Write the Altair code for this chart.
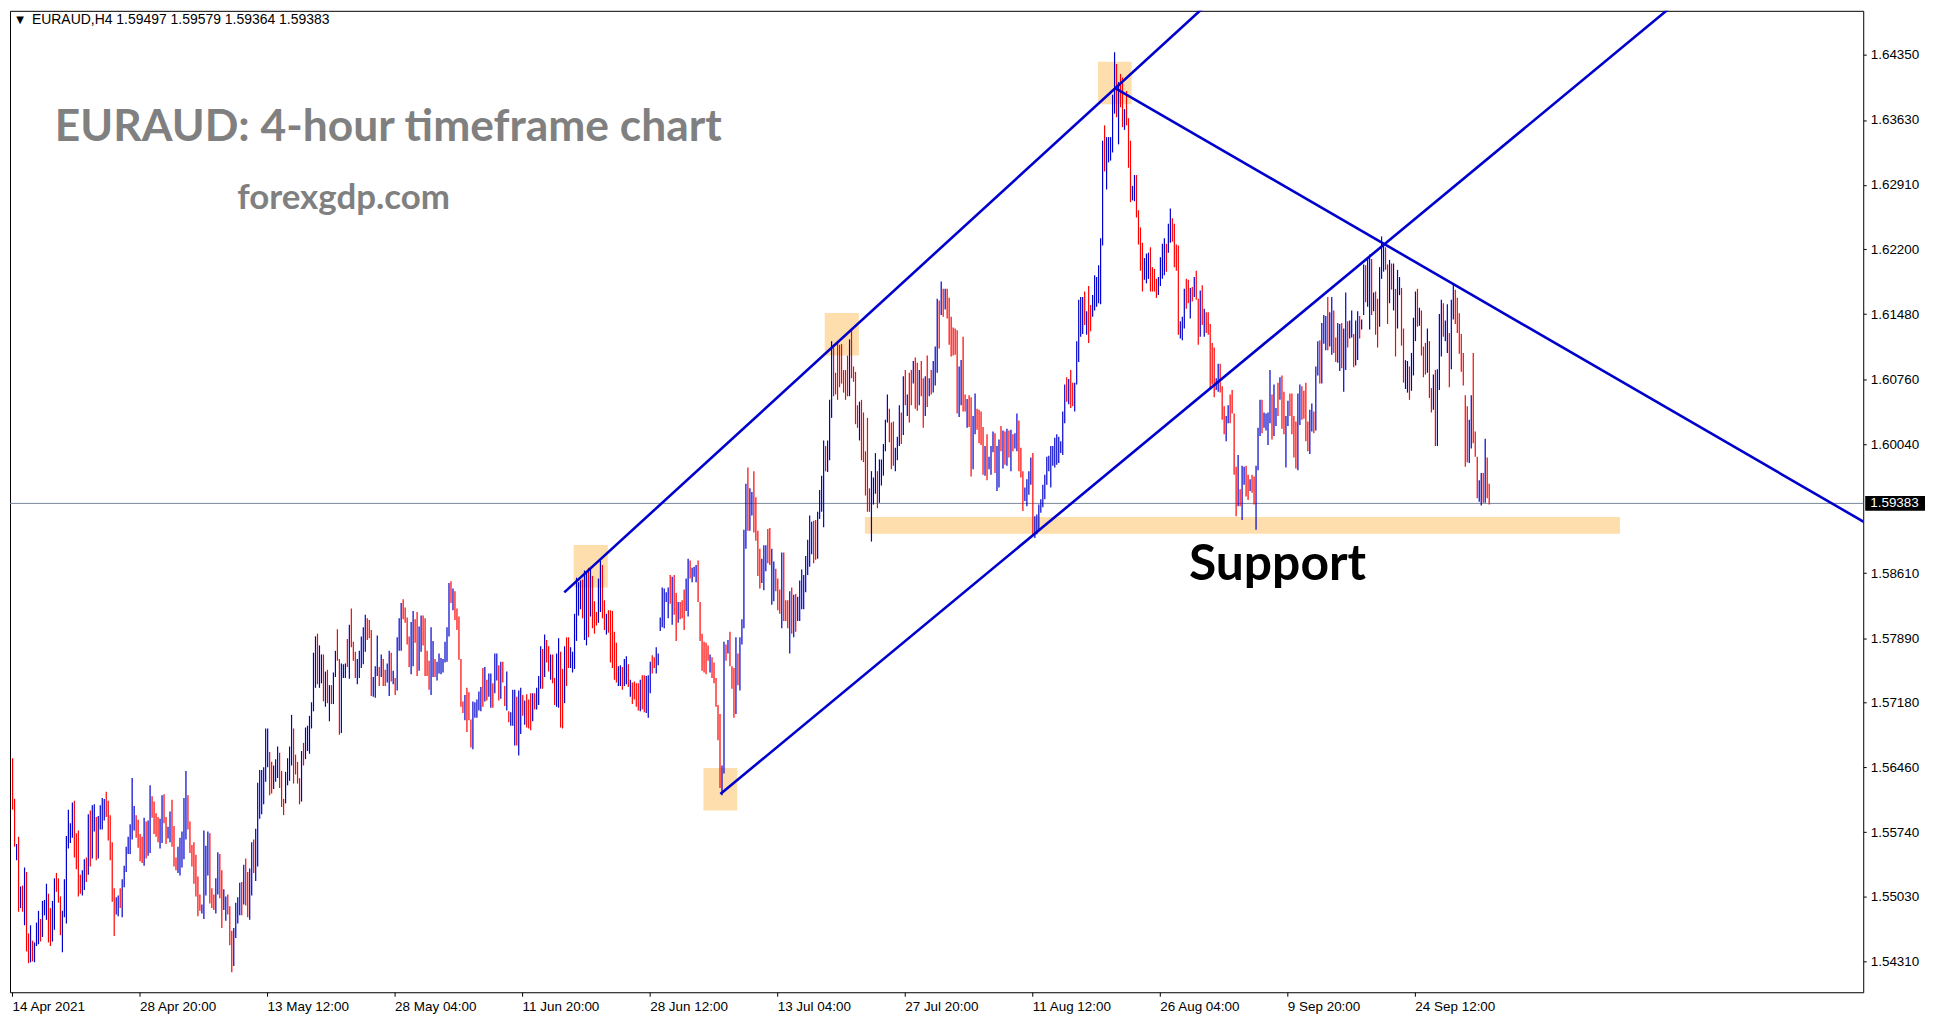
import altair as alt
import pandas as pd

# ---------------- data ----------------
highs = [
1.5656,1.5611,1.5561,1.5569,1.5514,1.5515,1.5535,1.5530,1.5462,1.5471,
1.5454,1.5452,1.5474,1.5487,1.5478,1.5498,1.5499,1.5517,1.5506,1.5490,
1.5498,1.5523,1.5529,1.5523,1.5503,1.5487,1.5522,1.5570,1.5599,1.5584,
1.5607,1.5609,1.5573,1.5576,1.5527,1.5532,1.5544,1.5546,1.5594,1.5598,
1.5604,1.5605,1.5591,1.5592,1.5604,1.5612,1.5611,1.5619,1.5609,1.5593,
1.5563,1.5512,1.5502,1.5504,1.5512,1.5522,1.5537,1.5558,1.5569,1.5583,
1.5634,1.5603,1.5593,1.5588,1.5572,1.5569,1.5590,1.5586,1.5587,1.5626,
1.5614,1.5608,1.5595,1.5591,1.5589,1.5615,1.5616,1.5591,1.5580,1.5597,
1.5610,1.5581,1.5546,1.5558,1.5568,1.5575,1.5612,1.5642,1.5615,1.5586,
1.5560,1.5563,1.5549,1.5525,1.5505,1.5494,1.5576,1.5559,1.5575,1.5573,
1.5512,1.5505,1.5523,1.5552,1.5550,1.5532,1.5511,1.5503,1.5505,1.5492,
1.5465,1.5468,1.5496,1.5502,1.5518,1.5519,1.5538,1.5545,1.5530,1.5534,
1.5563,1.5566,1.5578,1.5629,1.5643,1.5643,1.5646,1.5689,1.5689,1.5663,
1.5652,1.5648,1.5655,1.5669,1.5662,1.5642,1.5611,1.5641,1.5656,1.5669,
1.5704,1.5689,1.5660,1.5652,1.5634,1.5664,1.5673,1.5690,1.5692,1.5703,
1.5718,1.5773,1.5791,1.5794,1.5781,1.5771,1.5771,1.5752,1.5754,1.5737,
1.5737,1.5751,1.5775,1.5799,
1.5766,1.5761,1.5760,1.5761,1.5788,1.5804,1.5822,1.5785,1.5774,1.5766,
1.5775,1.5791,1.5801,1.5815,1.5811,1.5809,1.5798,1.5746,1.5758,1.5792,
1.5757,1.5771,1.5766,1.5754,1.5761,1.5775,1.5773,1.5753,1.5745,1.5790,
1.5811,1.5828,1.5832,1.5823,1.5812,1.5791,1.5807,1.5819,1.5810,1.5818,
1.5802,1.5814,1.5814,1.5811,1.5775,1.5764,1.5801,1.5786,1.5766,1.5763,
1.5772,1.5767,1.5766,1.5785,1.5801,1.5850,1.5852,1.5844,1.5841,1.5822,
1.5813,1.5766,1.5719,1.5726,1.5734,1.5729,1.5699,1.5719,1.5718,1.5721,
1.5730,1.5735,1.5756,1.5757,1.5743,1.5750,1.5750,1.5739,1.5772,1.5772,
1.5759,1.5763,1.5763,1.5736,1.5752,1.5708,1.5707,1.5732,1.5732,1.5724,
1.5731,1.5734,1.5726,1.5720,1.5727,1.5721,1.5728,1.5728,1.5728,1.5734,
1.5747,1.5780,1.5777,1.5793,1.5787,1.5780,1.5771,1.5771,1.5745,1.5772,
1.5789,1.5774,1.5755,1.5780,1.5790,1.5790,1.5779,1.5774,1.5816,1.5856,
1.5851,1.5853,1.5854,1.5864,1.5863,1.5867,1.5868,1.5858,1.5830,1.5818,
1.5855,1.5875,1.5870,1.5831,1.5816,1.5820,1.5820,1.5819,1.5796,1.5784,
1.5758,1.5759,1.5757,1.5766,1.5769,1.5760,1.5743,1.5740,1.5741,1.5739,
1.5739,1.5743,1.5748,1.5748,1.5747,1.5748,1.5763,1.5770,1.5768,1.5779,
1.5772,1.5812,1.5845,1.5844,1.5840,
1.5845,1.5859,1.5857,1.5859,1.5839,1.5829,1.5829,1.5831,1.5843,1.5855,
1.5877,1.5875,1.5867,1.5868,1.5870,1.5875,1.5829,1.5794,1.5785,1.5784,
1.5781,1.5771,1.5768,1.5762,1.5745,1.5715,1.5705,1.5648,1.5785,1.5782,
1.5787,1.5796,1.5758,1.5756,1.5790,1.5772,1.5790,1.5810,1.5909,1.5960,
1.5978,1.5955,1.5951,1.5974,1.5945,1.5908,1.5888,1.5877,1.5892,1.5892,
1.5910,1.5911,1.5888,1.5874,1.5866,1.5855,1.5843,1.5884,1.5884,1.5831,
1.5831,1.5841,1.5845,1.5837,1.5838,1.5835,1.5853,1.5865,1.5859,1.5880,
1.5898,1.5925,1.5918,1.5919,1.5920,1.5929,1.5953,1.5969,1.6008,1.6002,
1.6008,1.6053,1.6118,1.6111,1.6083,1.6116,1.6114,1.6115,1.6086,1.6086,
1.6102,1.6120,1.6130,1.6090,1.6084,1.6047,1.6051,1.6053,1.6039,1.5996,
1.6033,1.5955,1.5974,1.5967,1.5994,1.5974,1.5987,1.5987,1.6004,1.6031,
1.6059,1.6043,1.6028,1.6029,1.6000,1.6012,1.6047,1.6039,1.6079,1.6086,
1.6059,1.6083,1.6086,1.6096,1.6100,1.6094,1.6086,1.6096,1.6077,1.6079,
1.6102,1.6077,1.6086,1.6096,1.6112,1.6165,1.6163,1.6184,1.6176,1.6176,
1.6176,1.6166,
1.6145,1.6133,1.6132,1.6130,1.6090,1.6097,1.6123,1.6059,1.6054,1.6058,
1.6056,1.6035,1.6060,1.6043,1.6042,1.6040,1.6023,1.6002,1.6015,1.5990,
1.6002,1.6018,1.6016,1.6002,1.6009,1.6024,1.6019,1.6018,1.6021,1.6019,
1.6020,1.6015,1.6016,1.6038,1.6030,1.6000,1.5974,1.5956,1.5965,1.5974,
1.5989,1.5994,1.5924,1.5926,1.5937,1.5943,1.5959,1.5970,1.5990,1.5991,
1.6002,1.6002,1.6011,1.6015,1.6012,1.6007,1.6040,1.6070,1.6078,1.6076,
1.6086,1.6072,1.6072,1.6118,1.6164,1.6167,1.6167,1.6173,1.6151,1.6179,
1.6158,1.6169,1.6191,1.6189,1.6202,1.6232,1.6340,1.6357,1.6344,1.6344,
1.6344,1.6391,1.6438,1.6425,1.6405,1.6414,1.6410,1.6375,1.6395,1.6365,
1.6340,1.6290,1.6302,1.6302,1.6263,1.6244,1.6227,1.6210,1.6215,1.6216,
1.6222,1.6200,1.6198,1.6187,1.6189,1.6211,1.6226,1.6232,1.6226,1.6248,
1.6265,1.6254,1.6248,1.6225,1.6224,1.6140,1.6145,1.6176,1.6187,1.6186,
1.6177,1.6178,1.6189,1.6196,1.6165,1.6174,1.6180,1.6154,1.6150,1.6150,
1.6137,1.6116,1.6111,1.6077,1.6093,1.6093,1.6068,1.6046,1.6035,1.6047,
1.6059,1.6064,1.6038,1.5979,1.5992,1.5954,1.5980,1.5979,1.5980,1.5970,
1.5965,1.5970,1.5968,1.5980,1.6022,1.6053,1.6053,1.6039,1.6038,1.6039,
1.6086,1.6059,1.6070,1.6044,1.6072,1.6078,1.6080,1.6062,1.6035,1.6052,
1.6060,1.6060,1.6035,1.6029,1.6060,1.6070,1.6068,1.6063,1.6072,1.6029,
1.6042,1.6049,1.6040,1.6090,1.6118,1.6119,1.6138,1.6147,1.6146,1.6167,
1.6150,1.6167,1.6152,1.6122,1.6138,1.6137,1.6138,1.6132,1.6172,1.6140,
1.6141,1.6152,1.6126,1.6141,1.6151,1.6146,1.6142,1.6203,1.6202,1.6211,
1.6214,1.6209,1.6172,1.6173,1.6165,1.6200,1.6234,1.6227,1.6222,1.6203,
1.6208,1.6204,1.6204,1.6176,1.6197,1.6189,1.6177,1.6132,1.6097,1.6096,
1.6090,1.6105,1.6144,1.6173,1.6176,1.6155,1.6152,1.6112,1.6116,1.6132,
1.6118,1.6066,1.6081,1.6086,1.6087,1.6148,1.6164,1.6160,1.6141,1.6159,
1.6127,1.6164,1.6182,1.6175,1.6166,1.6149,1.6126,1.6105,1.6058,1.6046,
1.6031,1.6058,1.6105,1.6018,1.5990,1.5964,1.5972,1.5972,1.6010,1.5989,
1.5960,
]

lows = [
1.5599,1.5558,1.5543,1.5486,1.5490,1.5486,1.5471,1.5442,1.5429,1.5430,
1.5431,1.5430,1.5448,1.5450,1.5453,1.5458,1.5482,1.5477,1.5452,1.5448,
1.5453,1.5466,1.5508,1.5496,1.5460,1.5441,1.5480,1.5473,1.5556,1.5562,
1.5568,1.5546,1.5533,1.5503,1.5506,1.5504,1.5510,1.5519,1.5527,1.5536,
1.5545,1.5575,1.5543,1.5545,1.5577,1.5577,1.5587,1.5591,1.5565,1.5543,
1.5497,1.5459,1.5483,1.5481,1.5490,1.5480,1.5513,1.5530,1.5550,1.5550,
1.5566,1.5576,1.5568,1.5557,1.5542,1.5540,1.5537,1.5545,1.5548,1.5551,
1.5590,1.5572,1.5569,1.5563,1.5556,1.5562,1.5584,1.5561,1.5567,1.5563,
1.5558,1.5536,1.5532,1.5529,1.5526,1.5535,1.5544,1.5566,1.5577,1.5551,
1.5536,1.5517,1.5503,1.5481,1.5487,1.5484,1.5478,1.5504,1.5526,1.5495,
1.5490,1.5488,1.5484,1.5505,1.5501,1.5468,1.5488,1.5476,1.5483,1.5449,
1.5419,1.5426,1.5457,1.5473,1.5482,1.5482,1.5494,1.5493,1.5480,1.5477,
1.5504,1.5529,1.5520,1.5536,1.5589,1.5594,1.5605,1.5630,1.5646,1.5615,
1.5617,1.5622,1.5630,1.5634,1.5623,1.5602,1.5593,1.5606,1.5626,1.5631,
1.5648,1.5628,1.5638,1.5628,1.5605,1.5608,1.5648,1.5655,1.5664,1.5661,
1.5689,1.5708,1.5734,1.5738,1.5734,1.5739,1.5719,1.5713,1.5717,1.5697,
1.5716,1.5716,1.5746,1.5764,
1.5682,1.5684,1.5745,1.5745,1.5757,1.5744,1.5779,1.5764,1.5745,1.5738,
1.5745,1.5756,1.5760,1.5774,1.5787,1.5789,1.5725,1.5724,1.5723,1.5747,
1.5736,1.5746,1.5736,1.5736,1.5740,1.5725,1.5741,1.5738,1.5726,1.5731,
1.5775,1.5775,1.5810,1.5806,1.5782,1.5757,1.5749,1.5758,1.5784,1.5747,
1.5753,1.5774,1.5781,1.5747,1.5747,1.5732,1.5726,1.5746,1.5746,1.5742,
1.5750,1.5749,1.5751,1.5762,1.5763,1.5791,1.5828,1.5820,1.5809,1.5798,
1.5765,1.5713,1.5706,1.5698,1.5685,1.5698,1.5668,1.5666,1.5701,1.5701,
1.5709,1.5708,1.5713,1.5719,1.5720,1.5724,1.5712,1.5712,1.5728,1.5742,
1.5720,1.5722,1.5740,1.5714,1.5709,1.5696,1.5692,1.5692,1.5670,1.5670,
1.5659,1.5683,1.5703,1.5693,1.5690,1.5689,1.5687,1.5697,1.5710,1.5710,
1.5715,1.5733,1.5733,1.5746,1.5762,1.5752,1.5743,1.5739,1.5715,1.5713,
1.5712,1.5690,1.5689,1.5717,1.5736,1.5756,1.5756,1.5751,1.5755,1.5786,
1.5814,1.5821,1.5811,1.5787,1.5781,1.5790,1.5813,1.5800,1.5794,1.5803,
1.5806,1.5818,1.5811,1.5798,1.5793,1.5795,1.5762,1.5756,1.5743,1.5740,
1.5736,1.5736,1.5732,1.5736,1.5738,1.5735,1.5724,1.5716,1.5721,1.5713,
1.5709,1.5708,1.5710,1.5707,1.5706,1.5701,1.5728,1.5750,1.5756,1.5750,
1.5759,1.5797,1.5801,1.5800,1.5829,
1.5811,1.5827,1.5804,1.5815,1.5786,1.5806,1.5810,1.5811,1.5798,1.5819,
1.5813,1.5855,1.5851,1.5857,1.5851,1.5829,1.5786,1.5753,1.5751,1.5749,
1.5764,1.5751,1.5745,1.5739,1.5713,1.5676,1.5623,1.5615,1.5639,1.5764,
1.5772,1.5758,1.5733,1.5701,1.5705,1.5737,1.5731,1.5782,1.5800,1.5888,
1.5908,1.5908,1.5925,1.5906,1.5897,1.5858,1.5844,1.5850,1.5842,1.5863,
1.5872,1.5870,1.5826,1.5830,1.5841,1.5820,1.5816,1.5800,1.5808,1.5808,
1.5800,1.5772,1.5794,1.5790,1.5796,1.5808,1.5808,1.5821,1.5821,1.5840,
1.5859,1.5868,1.5882,1.5872,1.5876,1.5877,1.5921,1.5929,1.5912,1.5974,
1.5973,1.5986,1.6033,1.6057,1.6059,1.6053,1.6067,1.6071,1.6061,1.6053,
1.6057,1.6057,1.6077,1.6073,1.6026,1.6022,1.6008,1.5986,1.5984,1.5947,
1.5929,1.5929,1.5896,1.5937,1.5949,1.5933,1.5939,1.5958,1.5969,1.5996,
1.6028,1.6006,1.5976,1.5980,1.5974,1.5986,1.6002,1.6004,1.6014,1.6047,
1.6035,1.6028,1.6047,1.6071,1.6043,1.6041,1.6047,1.6057,1.6022,1.6035,
1.6045,1.6057,1.6059,1.6061,1.6069,1.6083,1.6110,1.6147,1.6145,1.6153,
1.6143,1.6114,
1.6101,1.6102,1.6103,1.6038,1.6034,1.6047,1.6040,1.6040,1.6022,1.6023,
1.5968,1.5976,1.6015,1.6020,1.6005,1.6003,1.5970,1.5969,1.5964,1.5976,
1.5970,1.5995,1.5972,1.5952,1.5956,1.5996,1.5977,1.5981,1.5980,1.5989,
1.5974,1.5996,1.5999,1.5996,1.5974,1.5967,1.5930,1.5941,1.5935,1.5948,
1.5959,1.5904,1.5900,1.5904,1.5910,1.5928,1.5934,1.5943,1.5959,1.5974,
1.5956,1.5980,1.5978,1.5981,1.5983,1.5994,1.5992,1.6027,1.6051,1.6048,
1.6044,1.6046,1.6040,1.6070,1.6095,1.6123,1.6126,1.6136,1.6125,1.6116,
1.6129,1.6145,1.6152,1.6156,1.6160,1.6159,1.6224,1.6306,1.6286,1.6316,
1.6318,1.6327,1.6370,1.6366,1.6336,1.6377,1.6355,1.6352,1.6357,1.6310,
1.6272,1.6274,1.6273,1.6255,1.6225,1.6196,1.6173,1.6186,1.6182,1.6187,
1.6173,1.6173,1.6173,1.6166,1.6169,1.6179,1.6187,1.6191,1.6195,1.6216,
1.6227,1.6228,1.6200,1.6196,1.6125,1.6121,1.6119,1.6132,1.6154,1.6160,
1.6143,1.6162,1.6167,1.6164,1.6114,1.6123,1.6136,1.6123,1.6127,1.6125,
1.6066,1.6070,1.6056,1.6064,1.6062,1.6061,1.6031,1.6015,1.6007,1.6027,
1.6027,1.6038,1.5970,1.5924,1.5935,1.5935,1.5920,1.5959,1.5946,1.5942,
1.5952,1.5950,1.5937,1.5909,1.5975,1.6013,1.6016,1.6022,1.6019,1.6003,
1.6027,1.6009,1.6013,1.6024,1.6035,1.6053,1.6021,1.6015,1.5978,1.6024,
1.6035,1.6015,1.5989,1.5977,1.5975,1.6025,1.6031,1.6032,1.6007,1.5996,
1.5993,1.6018,1.6016,1.6019,1.6080,1.6071,1.6071,1.6115,1.6108,1.6108,
1.6112,1.6103,1.6105,1.6095,1.6094,1.6085,1.6088,1.6062,1.6086,1.6111,
1.6121,1.6122,1.6089,1.6091,1.6097,1.6121,1.6131,1.6147,1.6161,1.6156,
1.6131,1.6147,1.6151,1.6125,1.6111,1.6134,1.6187,1.6195,1.6197,1.6137,
1.6160,1.6175,1.6152,1.6101,1.6132,1.6169,1.6113,1.6072,1.6065,1.6061,
1.6053,1.6063,1.6080,1.6118,1.6134,1.6135,1.6102,1.6078,1.6081,1.6083,
1.6055,1.6039,1.6042,1.6002,1.6002,1.6064,1.6101,1.6123,1.6118,1.6105,
1.6067,1.6087,1.6142,1.6137,1.6127,1.6104,1.6084,1.6069,1.5979,1.5984,
1.5983,1.5999,1.6005,1.5990,1.5944,1.5940,1.5936,1.5939,1.5939,1.5944,
1.5937,
]

# u = close above open, d = close below open
direction = (
    "ddudududdu" "duuuduuudd" "uuddduuuuu" "udddduudud" "uuduuuuddd"
    "dduuduuuuu" "uudddduduu" "dddduudduu" "ddduuuuudd" "ddddduuuud"
    "dduudduudd" "duuuududdu" "uduuuuuuud" "duuuddduuu" "udddduduuu"
    "uuuduududu" "duud"
    "duuududddu" "uuuuddduuu" "dudduududu" "uudddduudd" "uudddduudu"
    "uuuuuududd" "ddduddduuu" "uududuuduu" "dudduduuud" "uududddudu"
    "uududduddu" "uddudduuuu" "uuduududdd" "uudduddddd" "uuduududdd"
    "dudduuuddu" "uuuuu"
    "ududdudddu" "uduuuddddd" "duddddduud" "uddduduuuu" "duudddduuu"
    "dduudddudd" "dududuuuuu" "uuudduuuud" "uuuddddddd" "dudddduddd"
    "dduuuduuuu" "uddduuudud" "uddudduddu" "duduuududu" "dd"
    "dddduuddud" "duuddddudu" "uuduududud" "uduuddduuu" "uduuuuuuuu"
    "uuuuuuuudu" "dduuuuudud" "duuuuuuduu" "uuududdudd" "duudddduuu"
    "dddduuuudu" "udddduuudd" "ududdududd" "ddduuddduu"
    "dddduduudd" "udduuuduuu" "uduududduu" "dddduudddd" "uuduuduuud"
    "uudduuduud" "uuduuduudu" "ududduuudd" "ududuudduu" "duuududddu"
    "dduduuuduu" "duuddddddd" "uuddduudud" "d"
)

time_labels = ["14 Apr 2021", "28 Apr 20:00", "13 May 12:00", "28 May 04:00",
               "11 Jun 20:00", "28 Jun 12:00", "13 Jul 04:00", "27 Jul 20:00",
               "11 Aug 12:00", "26 Aug 04:00", "9 Sep 20:00", "24 Sep 12:00"]
bars_per_label = 64
price_ticks = [1.64350, 1.63630, 1.62910, 1.62200, 1.61480, 1.60760, 1.60040,
               1.58610, 1.57890, 1.57180, 1.56460, 1.55740, 1.55030, 1.54310]
last_price = 1.59383
header = "EURAUD,H4  1.59497 1.59579 1.59364 1.59383"

# annotation objects (bar index / price)
trend_lines = pd.DataFrame({
    "x": [277.15, 355.5, 553.15],
    "y": [1.58397, 1.56164, 1.63989],
    "x2": [627.8, 865.2, 935.0],
    "y2": [1.65479, 1.65479, 1.59105],
})
zones = pd.DataFrame({
    "x": [347.0, 281.85, 407.85, 545.0, 428.0],
    "x2": [364.0, 299.0, 425.0, 561.85, 806.9],
    "y": [1.55981, 1.58452, 1.61020, 1.63805, 1.59048],
    "y2": [1.56451, 1.58923, 1.61492, 1.64276, 1.59232],
})

# ---------------- chart ----------------
n = min(len(highs), len(lows), len(direction))
bars = pd.DataFrame({
    "idx": list(range(n)),
    "high": highs[:n],
    "low": lows[:n],
    "dir": list(direction[:n]),
})

W, H = 1860, 985
xs = alt.Scale(domain=[-1, 929], nice=False, zero=False)
ys = alt.Scale(domain=[1.539682, 1.648389], nice=False, zero=False)
AXFONT = "Liberation Sans"

label_js = "[" + ",".join("'" + s + "'" for s in time_labels) + "]"
x_axis = alt.Axis(values=[i * bars_per_label for i in range(len(time_labels))],
                  labelExpr=label_js + "[round(datum.value / %d)]" % bars_per_label,
                  labelAlign="left", labelFont=AXFONT, labelFontSize=13.5,
                  labelColor="black", labelPadding=3, tickSize=4, tickColor="black",
                  domain=False, grid=False, title=None, labelOverlap=False,
                  labelFlush=False, labelBaseline="top")
y_axis = alt.Axis(orient="right", values=price_ticks, format=".5f",
                  labelFont=AXFONT, labelFontSize=13.5, labelColor="black",
                  labelPadding=4, tickSize=3, tickColor="black", domain=False,
                  grid=False, title=None, labelOverlap=False)

zone_layer = alt.Chart(zones).mark_rect(color="#FFDEAD", clip=True).encode(
    x=alt.X("x:Q", scale=xs, axis=x_axis), x2="x2:Q",
    y=alt.Y("y:Q", scale=ys, axis=y_axis), y2="y2:Q")

price_line = alt.Chart(pd.DataFrame({"p": [last_price]})).mark_rule(
    color="#778899", strokeWidth=1).encode(
    y=alt.Y("p:Q", scale=ys, axis=y_axis))

bar_layer = alt.Chart(bars).transform_calculate(
    xe="datum.idx + 0.6").mark_rect().encode(
    x=alt.X("idx:Q", scale=xs, axis=x_axis),
    x2="xe:Q",
    y=alt.Y("high:Q", scale=ys, axis=y_axis),
    y2="low:Q",
    color=alt.Color("dir:N", scale=alt.Scale(domain=["u", "d"],
                                             range=["#0000CC", "#FF0000"]),
                    legend=None))

line_layer = alt.Chart(trend_lines).mark_rule(
    color="#0000CD", strokeWidth=2.6, clip=True).encode(
    x=alt.X("x:Q", scale=xs, axis=x_axis), x2="x2:Q",
    y=alt.Y("y:Q", scale=ys, axis=y_axis), y2="y2:Q")

support = alt.Chart(pd.DataFrame({"x": [590.6], "y": [1.58534], "t": ["Support"]})).mark_text(
    font="Lato", fontWeight="bold", fontSize=50, color="black",
    align="left", baseline="alphabetic").encode(
    x=alt.X("x:Q", scale=xs, axis=x_axis), y=alt.Y("y:Q", scale=ys, axis=y_axis),
    text="t:N")

one = pd.DataFrame({"a": [0]})
title_txt = alt.Chart(one).mark_text(
    text="EURAUD: 4-hour timeframe chart", font="Lato", fontWeight="bold",
    fontSize=44.5, color="#808080", align="left", baseline="alphabetic").encode(
    x=alt.value(45), y=alt.value(131))
site_txt = alt.Chart(one).mark_text(
    text="forexgdp.com", font="Lato", fontWeight="bold", fontSize=35,
    color="#808080", align="left", baseline="alphabetic").encode(
    x=alt.value(228), y=alt.value(199))
header_txt = alt.Chart(one).mark_text(
    text=header, font=AXFONT, fontSize=14, color="black",
    align="left", baseline="middle").encode(x=alt.value(22), y=alt.value(9))
tri_txt = alt.Chart(one).mark_text(
    text="\u25bc", font="DejaVu Sans", fontSize=10, color="black",
    align="center", baseline="middle").encode(x=alt.value(10), y=alt.value(9))

tag_box = alt.Chart(pd.DataFrame({"p": [last_price]})).mark_rect(
    color="black", yOffset=-7.5, y2Offset=7.5).encode(
    x=alt.value(W + 2), x2=alt.value(W + 62),
    y=alt.Y("p:Q", scale=ys, axis=y_axis), y2="p:Q")
tag_txt = alt.Chart(pd.DataFrame({"p": [last_price]})).mark_text(
    text="1.59383", font=AXFONT, fontSize=13.5, color="white",
    align="left", baseline="middle").encode(
    x=alt.value(W + 7), y=alt.Y("p:Q", scale=ys, axis=y_axis))

chart = alt.layer(
    zone_layer, price_line, bar_layer, line_layer, support,
    title_txt, site_txt, header_txt, tri_txt, tag_box, tag_txt
).properties(
    width=W, height=H,
    padding={"left": 1, "top": 1, "right": 0, "bottom": 0},
    background="white",
).configure_view(stroke="black", strokeWidth=1)

chart.save("out.html", embed_options={"renderer": "svg", "actions": False})
